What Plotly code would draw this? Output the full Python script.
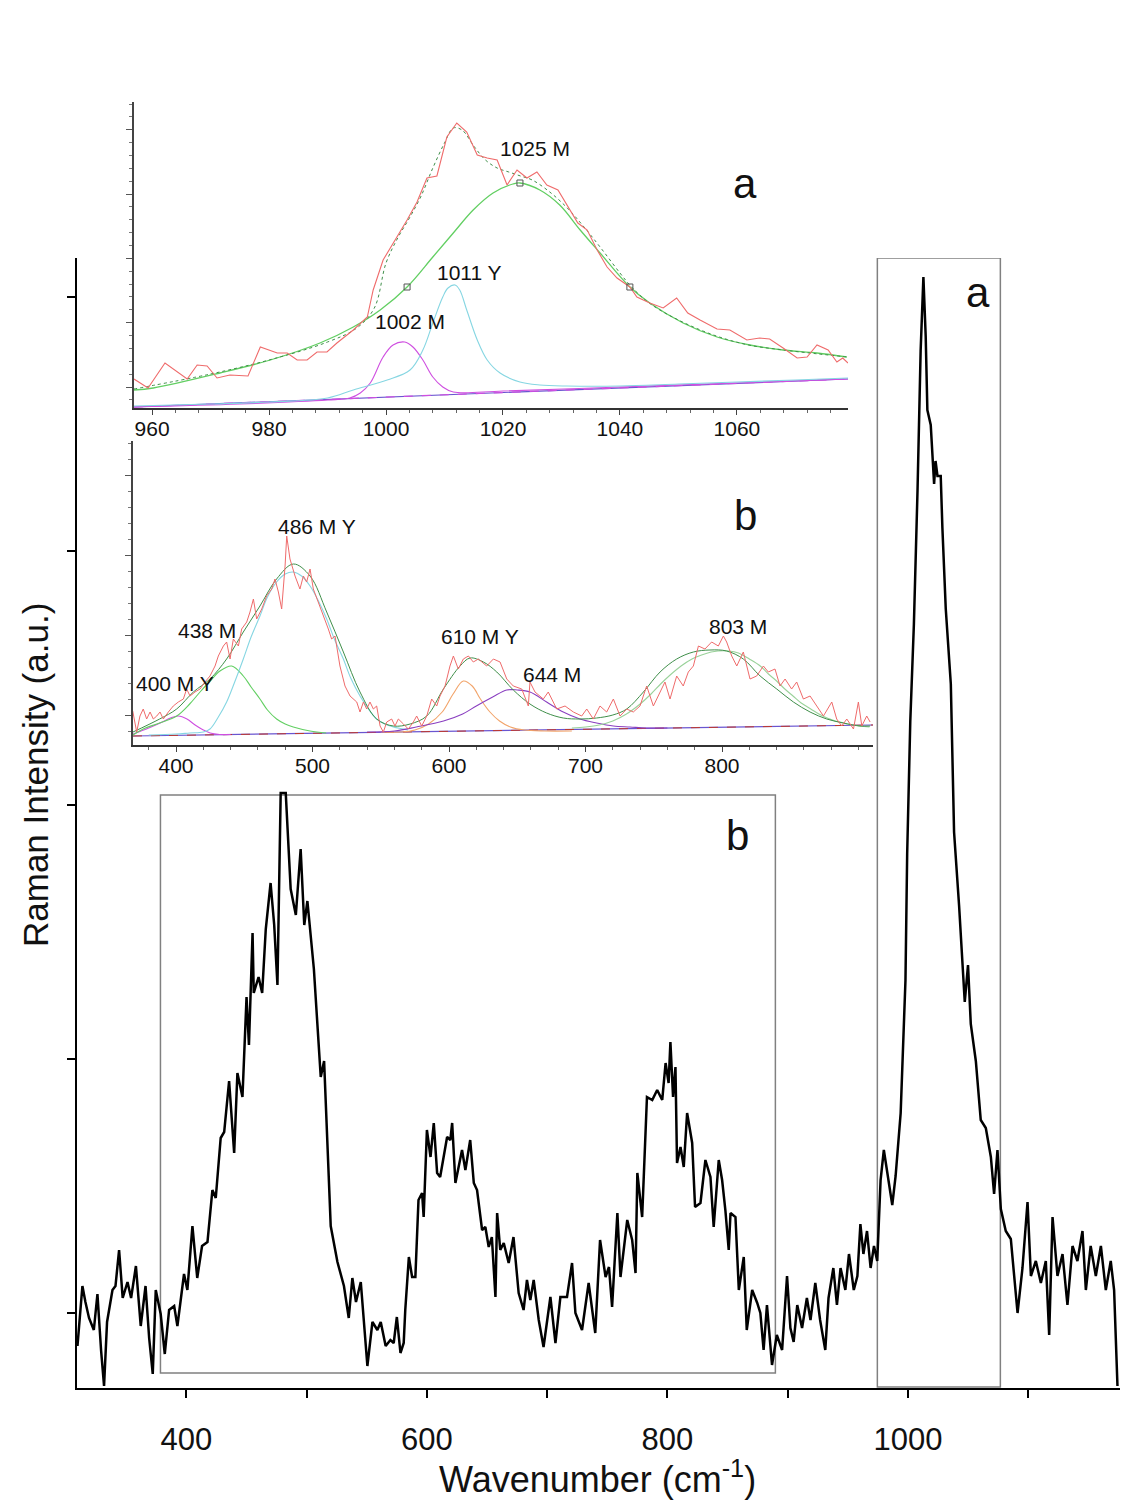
import plotly.graph_objects as go

W, H = 1125, 1512
FONT = "Liberation Sans, Arial, sans-serif"

# ---------------- main spectrum ----------------
main_x = [309.4, 313.5, 316, 319, 323, 326, 329, 331.5, 334, 338.5, 341, 344, 347, 351, 354, 358, 362, 366, 369, 372,
          374.5, 378.6, 382, 385.6, 389.8, 392.5, 398, 400.8, 405, 409, 413, 417.5, 421.6, 424.4, 428.5, 431.4, 435.5,
          439.7, 442.4, 446.6, 450, 452, 455, 456, 460, 463, 466, 470, 473, 475.7, 478.4, 482.6, 486.7, 491, 495, 498,
          500.6, 506, 511.7, 514.5, 520, 525.6, 531, 535, 538, 541, 545, 547.8, 550.5, 554.7, 558.8, 561.6, 565.7,
          569.6, 572.4, 575, 578, 580.7, 582, 585, 587.7, 590.4, 593, 596, 597.3, 600, 603, 605.7, 608.5, 611, 614,
          616.8, 619.5, 621, 623.7, 626.4, 629.2, 632, 636, 639, 641.7, 645.9, 648.6, 651.4, 654, 657, 658.4, 661,
          663.9, 668, 672, 676.3, 680.4, 683.2, 686, 688.8, 693, 697, 702.7, 706.9, 711, 716.5, 720.7, 723.5, 729,
          734.5, 740, 744, 748.6, 751.4, 754, 758.4, 761, 766.6, 770.7, 773.5, 775, 779, 783, 787.4, 791.5, 795.7,
          798.5, 801, 802.5, 804.7, 806.7, 808, 810.9, 813.6, 816.4, 820.6, 823, 827.5, 831.6, 835.8, 838.5, 842.7,
          845.5, 848.2, 851, 852.5, 856.6, 859.4, 863.5, 866, 870.5, 874.7,
          877.3, 880, 882.8, 887, 891, 895.4, 899.5, 902.3, 905, 908, 912, 916, 919, 923, 927, 931.3, 934, 938, 941,
          944, 948, 951, 955, 958, 960.5, 963, 966, 969, 971.8, 974.5, 977.3, 980, 983, 987, 989.8, 994, 998, 999.4,
          1002, 1005, 1008, 1010.6, 1012.9, 1014.8, 1016.2, 1019, 1021.8, 1023, 1024.6, 1027.3, 1028.7, 1031.5,
          1035.7, 1038.4, 1042.6, 1045.4, 1047.3, 1050, 1052.3, 1056.5, 1060.6, 1064.8, 1069, 1071.7, 1074.5, 1077.3,
          1081.4, 1085.6, 1091.2, 1095.3, 1099.5, 1102.3, 1106.4, 1110.6, 1114.7, 1117.5, 1120.3, 1124.4, 1128.6,
          1132.7, 1136.9, 1141, 1145.2, 1148, 1152, 1156.3, 1160.5, 1164.6, 1168.7, 1171.5, 1174.3]
main_y = [42, 102, 86, 70, 58, 94, 38, 2, 66, 98, 102, 138, 90, 106, 90, 122, 62, 102, 50, 14,
          98, 74, 34, 78, 82, 62, 114, 98, 162, 110, 142, 146, 198, 190, 250, 256, 307,
          235, 315, 291, 391, 343, 455, 395, 411, 395, 459, 505, 463, 403, 595, 595, 499, 473, 539, 463,
          487, 419, 311, 327, 162, 126, 102, 70, 110, 86, 106, 66, 22, 66, 58, 66, 42,
          48, 45, 71, 35, 45, 78, 131, 111, 111, 188, 195, 171, 258, 231, 265, 215, 211, 231,
          251, 248, 265, 205, 221, 238, 218, 248, 205, 198, 158, 161, 141, 151, 91, 175, 138,
          145, 125, 151, 95, 78, 108, 88, 108, 68, 41, 91, 45, 91, 91, 125, 75, 58,
          105, 55, 148, 111, 121, 81, 175, 111, 168, 148, 115, 215, 171, 291, 288, 298, 288,
          325, 305, 346, 291, 321, 225, 241, 221, 275, 245, 181, 185, 228, 211, 161, 228,
          208, 178, 138, 175, 171, 98, 131, 58, 98, 85,
          75, 38, 83, 23, 53, 38, 112, 60, 46, 83, 60, 90, 68, 105, 68, 38, 90, 120, 83,
          120, 98, 134, 98, 112, 164, 134, 157, 120, 142, 127, 208, 238, 216, 183, 212, 275, 408, 534,
          667, 764, 897, 1037, 1111, 1052, 978, 963, 904, 927, 912, 912, 860, 779,
          704, 556, 482, 430, 386, 423, 364, 327, 268, 260, 231, 194, 238, 179,
          157, 149, 75, 120, 186, 112, 127, 105, 127, 53, 171, 112, 134,
          83, 142, 127, 157, 98, 142, 112, 142, 98, 127, 98, 2]

main_xticks = [400, 600, 800, 1000]
main_yticks = [75, 329, 583, 837, 1091]
box_b = [378.4, 889.8, 15, 593]
box_a = [974.6, 1076.9, 1, 1130]

# ---------------- inset a (960-1080) ----------------
a_red_x = [956.9, 959.3, 962.2, 966, 967.7, 969.4, 971.1, 973.3, 976.4, 978.5, 981.4, 983.1, 984.8, 986.5, 988.2,
           989.9, 991.6, 994.4, 996.8, 997.8, 999.5, 1001.9, 1003.6, 1005.3, 1007, 1008.7, 1010.4, 1012.1, 1013.8,
           1015.6, 1017.3, 1019, 1020.7, 1022.4, 1024.1, 1025.8, 1027.5, 1029.4, 1030.9, 1032.8, 1034.4, 1036.1,
           1037.8, 1039.5, 1041.7, 1042.9, 1045.1, 1047.4, 1049.7, 1051.6, 1053.7, 1056.6, 1058.8, 1061.7, 1063.9,
           1065.6, 1067.9, 1070.3, 1072, 1073.7, 1075.6, 1077.1, 1078.1, 1079]
a_red_y = [29, 20, 45, 29, 43, 42, 30, 33, 32, 61, 55, 55, 48, 48, 56, 56, 65, 78, 91, 118, 148, 171, 188, 206,
           230, 232, 271, 285, 276, 253, 250, 248, 223, 238, 230, 236, 223, 218, 203, 185, 178, 158, 141, 130,
           121, 111, 105, 100, 110, 95, 88, 79, 78, 68, 70, 69, 60, 50, 51, 63, 58, 46, 50, 45]
a_env_x = [956.9, 970, 980, 990, 995, 998, 1000, 1002, 1004, 1006, 1008, 1010, 1011.5, 1013, 1015, 1017, 1019,
           1021, 1023, 1025, 1028, 1031, 1034, 1037, 1040, 1042, 1045, 1050, 1056, 1062, 1068, 1074, 1079]
a_env_y = [19, 34, 48, 66, 80, 100, 145, 170, 190, 212, 240, 265, 280, 278, 262, 248, 240, 236, 232, 228, 216,
           200, 180, 158, 135, 121, 105, 88, 73, 63, 58, 54, 51]
a_g1025_x = [956.9, 960.2, 971.6, 980.2, 988.7, 994.4, 999, 1003.6, 1008, 1011.5, 1014.9, 1018.3, 1021.7, 1022.9,
             1026.3, 1029.7, 1033.2, 1036.6, 1041.7, 1045.1, 1050.8, 1056.6, 1062.2, 1067.9, 1073.7, 1078.8]
a_g1025_y = [18, 20, 35, 48, 65, 81, 98, 121, 151, 175, 198, 215, 224, 225, 218, 203, 178, 155, 121, 105, 85,
             71, 63, 58, 55, 51]
a_c1011_x = [956.9, 970, 980, 990, 994.4, 1000.2, 1004.1, 1006.3, 1008, 1009.7, 1010.6, 1011.8, 1012.6, 1013.8,
             1015.6, 1017.3, 1019.5, 1022.9, 1026.3, 1030.9, 1040, 1050, 1060, 1070, 1079]
a_c1011_y = [2, 4, 6, 10, 18, 28, 38, 58, 85, 111, 120, 123, 118, 98, 68, 48, 35, 26, 23, 22, 22, 24, 26, 28, 30]
a_m1002_x = [956.9, 975, 990, 993.8, 995.6, 997.3, 999.5, 1001.2, 1003.2, 1004.6, 1006.3, 1008, 1009.7, 1011.5,
             1020, 1040, 1060, 1079]
a_m1002_y = [1, 4, 8, 10, 15, 25, 51, 63, 66, 61, 48, 31, 21, 16, 17, 21, 25, 29]
a_base_x = [956.9, 1079]
a_base_y = [1, 29]
a_mark_x = [1003.6, 1022.9, 1041.7]
a_mark_y = [121, 225, 121]
a_xticks = [960, 980, 1000, 1020, 1040, 1060]
a_labels = ["1025 M", "1011 Y", "1002 M"]
a_lab_x = [1025.5, 1014.2, 1004.1]
a_lab_y = [259, 136, 87]

# ---------------- inset b (370-910) ----------------
b_red_x = [368.3, 371.2, 373.6, 376, 378.5, 381, 383.4, 385.9, 388.3, 390.7, 394.4, 398, 401.7, 405.4, 407.8,
           410.3, 413.9, 417.6, 421.2, 424.9, 428.6, 431, 434.7, 437.1, 439.6, 442, 445.7, 448.1, 451.8, 454.2,
           456.7, 459.1, 462.8, 466.4, 470.1, 472.5, 475, 477.4, 479.9, 481.1, 483.5, 487.2, 490.8, 493.3, 495.7,
           498.2, 500.6, 504.3, 507.9, 511.6, 514, 516.5, 520.1, 523.8, 527.5, 532.4, 534.8, 537.3, 539.7, 542.1,
           544.6, 547, 549.5, 551.9, 554.4, 558, 560.4, 562.9, 566.6, 570.2, 573.9, 576.3, 580, 583.7, 587.3, 591,
           593.4, 597.1, 600.7, 603.2, 606.8, 610.5, 614.2, 617.8, 621.5,
           627.6, 632.5, 637.4, 642.3, 647.1, 653.3, 658.1, 659.3, 663, 669.1, 672.7, 678.9, 685, 691.1, 697.2,
           700.9, 705.7, 710.6, 715.5, 720.4, 725.3, 730.2, 735, 739.9, 744.8, 749.7, 754.6, 758.2, 761.9, 766.8,
           771.6, 775.3, 779, 782.7, 787.5, 792.4, 797.3, 801, 803.4, 807.1, 810.8, 815.6, 820.5, 825.4, 830.3,
           833.9, 838.8, 842.5, 846.2, 851, 854.7, 859.6, 864.5, 869.4, 874.3, 880.4, 884, 887.7, 891.4, 896.3,
           899.9, 902.4, 906, 908.5]
b_red_y = [43, 22, 38, 45, 35, 42, 35, 38, 42, 35, 42, 48, 52, 55, 65, 58, 62, 65, 72, 78, 88, 98, 108, 112, 95,
           115, 108, 125, 132, 142, 155, 135, 145, 158, 165, 175, 162, 145, 188, 218, 195, 178, 165, 178, 172, 185,
           165, 152, 138, 125, 115, 118, 88, 68, 58, 52, 42, 52, 45, 52, 45, 48, 28, 22, 32, 35, 28, 35, 30, 25,
           32, 38, 28, 38, 55, 48, 58, 68, 88, 98, 85, 95, 98, 92, 95,
           88, 95, 92, 75, 68, 65, 48, 72, 62, 55, 62, 45, 48, 42, 38, 45, 35, 48, 42, 55, 38, 45, 42, 48, 68, 48,
           62, 72, 55, 78, 68, 82, 88, 108, 105, 112, 108, 118, 112, 98, 88, 102, 75, 78, 88, 82, 85, 68, 75, 65,
           72, 55, 58, 48, 38, 52, 35, 28, 35, 25, 52, 28, 38, 32]
b_env_x = [368.5, 388, 400.5, 412.7, 424.9, 437.1, 449.3, 461.5, 473.7, 486, 498.2, 510.4, 522.6, 534.8, 547,
           559.3, 571.5, 583.7, 595.9, 608.1, 615.4, 625.2, 635, 647.1, 659.3, 671.5, 683.7, 695.9, 708.1, 720,
           730.2, 742.4, 754.6, 766.8, 779, 791.2, 803.4, 815.6, 827.9, 840.1, 852.3, 864.5, 876.7, 888.9, 901.1,
           908.5]
b_env_y = [22, 35, 45, 62, 75, 95, 122, 148, 175, 190, 178, 142, 102, 62, 35, 28, 30, 38, 65, 88, 96, 92, 82,
           64, 50, 41, 36, 35, 36, 39, 45, 62, 82, 95, 102, 104, 103, 95, 78, 65, 52, 42, 35, 31, 28, 28]
b_m400_x = [368.5, 380, 390, 396, 401.7, 408, 414, 420, 425, 432, 440]
b_m400_y = [20, 26, 32, 36, 38, 35, 29, 24, 21, 19.5, 19.5]
b_g438_x = [368.5, 376, 388, 400.5, 410, 417.6, 425, 432.2, 440.8, 449.3, 455, 461.5, 467, 473.7, 480, 485.9,
            498.2, 510]
b_g438_y = [19, 25, 31, 38, 50, 62, 73, 83, 88, 78, 67, 55, 44, 35, 30, 27, 23, 21]
b_c486_x = [380, 400, 410, 420, 424.9, 431, 437.1, 443, 449.3, 455, 461.5, 467, 473.7, 480, 486, 492, 498.2, 504,
            510.4, 516, 522.6, 528, 534.8, 541, 547, 553, 559.3, 570]
b_c486_y = [19, 20, 21, 22, 25, 37, 52, 72, 95, 117, 138, 157, 172, 180, 182, 178, 168, 154, 135, 115, 95, 76,
            58, 45, 35, 30, 27, 24]
b_o610_x = [550, 565, 575, 585, 595, 603, 610.5, 617, 623, 630, 637, 645, 655, 670, 690]
b_o610_y = [22, 22, 24, 30, 42, 60, 73, 68, 55, 42, 33, 27, 24, 23, 23]
b_p644_x = [540, 560, 576, 596, 610, 620, 632, 642.3, 650, 659.3, 671.5, 683.7, 695.9, 708.1, 720.4, 732.6,
            744.8, 760]
b_p644_y = [22, 23, 27, 33, 40, 48, 57, 64, 64, 62, 52, 42, 35, 31, 28, 27, 26, 26]
b_g803_x = [690, 700, 710, 720, 730, 740, 748, 755, 762, 770, 778, 785, 792, 797, 805, 812, 820, 828, 834, 840,
            846, 852, 858, 865, 871, 877, 883, 889, 895, 901, 908]
b_g803_y = [26, 27, 29, 33, 40, 50, 60, 70, 79, 88, 95, 99, 102, 103, 103, 101, 95, 88, 80, 73, 65, 58, 51, 45,
            40, 36, 33, 31, 29, 28, 27]
b_base_x = [368.5, 910.6]
b_base_y = [18, 29]
b_xticks = [400, 500, 600, 700, 800]
b_labels = ["486 M Y", "438 M", "400 M Y", "610 M Y", "644 M", "803 M"]
b_lab_x = [503.1, 422.5, 399.3, 622.7, 675.2, 812]
b_lab_y = [228, 124, 71, 118, 80, 128]

RED = "#ef6b6b"
GREEN = "#62cf62"
DKGREEN = "#3f8f4a"
CYAN = "#86d6e2"
MAGENTA = "#cf4fe0"
PURPLE = "#6a55d0"
ORANGE = "#f2a46a"

fig = go.Figure()


def line(x, y, color, width, ax, dash="solid", shape="linear"):
    fig.add_trace(go.Scatter(x=x, y=y, mode="lines", xaxis=ax[0], yaxis=ax[1],
                             line=dict(color=color, width=width, dash=dash, shape=shape),
                             showlegend=False, hoverinfo="skip"))


# main
line(main_x, main_y, "black", 2.5, ("x", "y"))

# inset a
A = ("x2", "y2")
line(a_base_x, a_base_y, PURPLE, 1.2, A)
line(a_base_x, a_base_y, MAGENTA, 1.2, A, dash="dash")
line(a_m1002_x, a_m1002_y, MAGENTA, 1.1, A, shape="spline")
line(a_c1011_x, a_c1011_y, CYAN, 1.1, A, shape="spline")
line(a_g1025_x, a_g1025_y, GREEN, 1.3, A, shape="spline")
line(a_env_x, a_env_y, DKGREEN, 1.0, A, dash="dot", shape="spline")
line(a_red_x, a_red_y, RED, 1.1, A)
fig.add_trace(go.Scatter(x=a_mark_x, y=a_mark_y, mode="markers", xaxis="x2", yaxis="y2",
                         marker=dict(symbol="square-open", size=6, color="#555", line=dict(width=1)),
                         showlegend=False, hoverinfo="skip"))

# inset b
B = ("x3", "y3")
line(b_base_x, b_base_y, PURPLE, 1.2, B)
line(b_base_x, b_base_y, "#c0392b", 1.0, B, dash="dash")
line(b_m400_x, b_m400_y, MAGENTA, 1.1, B, shape="spline")
line(b_g438_x, b_g438_y, GREEN, 1.1, B, shape="spline")
line(b_c486_x, b_c486_y, CYAN, 1.1, B, shape="spline")
line(b_o610_x, b_o610_y, ORANGE, 1.1, B, shape="spline")
line(b_p644_x, b_p644_y, "#8a3fc0", 1.1, B, shape="spline")
line(b_g803_x, b_g803_y, "#9ad29a", 1.1, B, shape="spline")
line(b_env_x, b_env_y, DKGREEN, 1.0, B, shape="spline")
line(b_red_x, b_red_y, RED, 1.0, B)

# boxes
for bx in (box_b, box_a):
    fig.add_shape(type="rect", xref="x", yref="y", x0=bx[0], x1=bx[1], y0=bx[2], y1=bx[3],
                  line=dict(color="#808080", width=1.5), layer="below")

ann = []
for t, x, y in zip(a_labels, a_lab_x, a_lab_y):
    ann.append(dict(text=t, x=x, y=y, xref="x2", yref="y2", showarrow=False, xanchor="center", yanchor="middle",
                    font=dict(family=FONT, size=21, color="#111")))
for t, x, y in zip(b_labels, b_lab_x, b_lab_y):
    ann.append(dict(text=t, x=x, y=y, xref="x3", yref="y3", showarrow=False, xanchor="center", yanchor="middle",
                    font=dict(family=FONT, size=21, color="#111")))


def P(px, py):
    return px / W, 1 - py / H


for t, (px, py), s in [("a", (978, 292), 42), ("b", (737, 835), 42), ("a", (745, 184), 42), ("b", (745, 515), 42)]:
    x, y = P(px, py)
    ann.append(dict(text=t, x=x, y=y, xref="paper", yref="paper", showarrow=False, xanchor="center",
                    yanchor="middle", font=dict(family=FONT, size=s, color="#111")))
x, y = P(597, 1477)
ann.append(dict(text="Wavenumber (cm<sup>-1</sup>)", x=x, y=y, xref="paper", yref="paper", showarrow=False,
                xanchor="center", yanchor="middle", font=dict(family=FONT, size=36, color="#111")))
x, y = P(35, 775)
ann.append(dict(text="Raman Intensity (a.u.)", x=x, y=y, xref="paper", yref="paper", showarrow=False,
                xanchor="center", yanchor="middle", textangle=-90,
                font=dict(family=FONT, size=35, color="#111")))

common = dict(showgrid=False, zeroline=False, showline=True)

fig.update_layout(
    width=W, height=H, autosize=False,
    margin=dict(l=0, r=0, t=0, b=0),
    paper_bgcolor="white", plot_bgcolor="rgba(0,0,0,0)",
    showlegend=False,
    annotations=ann,
    xaxis=dict(domain=[77 / W, 1120 / W], range=[309, 1176.4], anchor="y",
               linecolor="black", linewidth=2, ticks="outside", ticklen=8, tickwidth=1.5, tickcolor="black",
               tickmode="array", tickvals=main_xticks, ticklabelstandoff=15,
               tickfont=dict(family=FONT, size=31, color="#111"),
               minor=dict(tick0=400, dtick=100, ticks="outside", ticklen=8, tickwidth=1.5, tickcolor="black"),
               **common),
    yaxis=dict(domain=[1 - 1388 / H, 1 - 258 / H], range=[0, 1130], anchor="x",
               linecolor="black", linewidth=2, ticks="outside", ticklen=8, tickwidth=1.5, tickcolor="black",
               tickmode="array", tickvals=main_yticks, showticklabels=False, **common),
    xaxis2=dict(domain=[134 / W, 848 / W], range=[956.9, 1079], anchor="y2",
                linecolor="#333", linewidth=2, ticks="outside", ticklen=5, tickwidth=1, tickcolor="#444",
                tickmode="array", tickvals=a_xticks, ticklabelstandoff=-4,
                tickfont=dict(family=FONT, size=21, color="#111"),
                minor=dict(tick0=960, dtick=4, ticks="outside", ticklen=3, tickwidth=1, tickcolor="#666"),
                **common),
    yaxis2=dict(domain=[1 - 408 / H, 1 - 102 / H], range=[0, 306], anchor="x2",
                linecolor="#444", linewidth=1.5, ticks="outside", ticklen=6, tickwidth=1, tickcolor="#555",
                tick0=21, dtick=64.3, showticklabels=False,
                minor=dict(tick0=21, dtick=12.86, ticks="outside", ticklen=3, tickwidth=1, tickcolor="#777"),
                **common),
    xaxis3=dict(domain=[133 / W, 873 / W], range=[368.5, 910.6], anchor="y3",
                linecolor="#333", linewidth=2, ticks="outside", ticklen=5, tickwidth=1, tickcolor="#444",
                tickmode="array", tickvals=b_xticks, ticklabelstandoff=-4,
                tickfont=dict(family=FONT, size=21, color="#111"),
                minor=dict(tick0=400, dtick=20, ticks="outside", ticklen=3, tickwidth=1, tickcolor="#666"),
                **common),
    yaxis3=dict(domain=[1 - 745 / H, 1 - 441 / H], range=[9, 313], anchor="x3",
                linecolor="#444", linewidth=1.5, ticks="outside", ticklen=6, tickwidth=1, tickcolor="#555",
                tick0=39, dtick=80, showticklabels=False,
                minor=dict(tick0=39, dtick=16, ticks="outside", ticklen=3, tickwidth=1, tickcolor="#777"),
                **common),
)

fig.write_html("out.html")
